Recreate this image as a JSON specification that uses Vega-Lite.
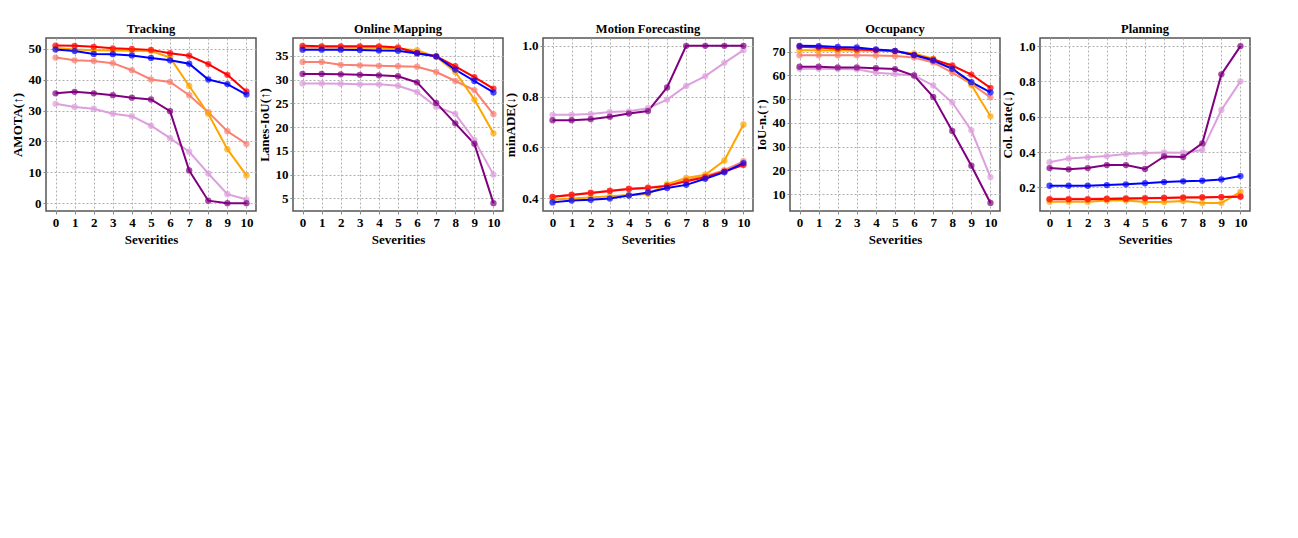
{
"$schema": "https://vega.github.io/schema/vega-lite/v6.json",
"background": "white",
"padding": {"left": 10, "top": 21, "right": 5, "bottom": 5},
"spacing": 0,
"config": {
"font": "Liberation Serif",
"view": {"stroke": "#555", "strokeWidth": 1.5},
"axis": {"labelFontWeight": "bold", "labelFontSize": 13, "labelColor": "black", "titleFontWeight": "bold", "titleFontSize": 13, "titleColor": "black", "gridDash": [2, 2], "gridColor": "#b0b0b0", "domain": false, "tickSize": 3},
"title": {"fontWeight": "bold", "fontSize": 12.5, "offset": 3}
},
"resolve": {"scale": {"y": "independent"}},
"datasets": {"d": [
{"task":"Tracking","model":"FusionAD-R","sev":0,"value":47.2},{"task":"Tracking","model":"FusionAD-R","sev":1,"value":46.3},{"task":"Tracking","model":"FusionAD-R","sev":2,"value":46.1},{"task":"Tracking","model":"FusionAD-R","sev":3,"value":45.4},{"task":"Tracking","model":"FusionAD-R","sev":4,"value":43.1},{"task":"Tracking","model":"FusionAD-R","sev":5,"value":40.1},{"task":"Tracking","model":"FusionAD-R","sev":6,"value":39.3},{"task":"Tracking","model":"FusionAD-R","sev":7,"value":35.0},{"task":"Tracking","model":"FusionAD-R","sev":8,"value":29.5},{"task":"Tracking","model":"FusionAD-R","sev":9,"value":23.3},{"task":"Tracking","model":"FusionAD-R","sev":10,"value":19.2},
{"task":"Tracking","model":"UniAD-R","sev":0,"value":32.2},{"task":"Tracking","model":"UniAD-R","sev":1,"value":31.2},{"task":"Tracking","model":"UniAD-R","sev":2,"value":30.6},{"task":"Tracking","model":"UniAD-R","sev":3,"value":29.0},{"task":"Tracking","model":"UniAD-R","sev":4,"value":28.2},{"task":"Tracking","model":"UniAD-R","sev":5,"value":25.1},{"task":"Tracking","model":"UniAD-R","sev":6,"value":21.1},{"task":"Tracking","model":"UniAD-R","sev":7,"value":16.7},{"task":"Tracking","model":"UniAD-R","sev":8,"value":9.6},{"task":"Tracking","model":"UniAD-R","sev":9,"value":2.9},{"task":"Tracking","model":"UniAD-R","sev":10,"value":1.2},
{"task":"Tracking","model":"FusionAD","sev":0,"value":50.3},{"task":"Tracking","model":"FusionAD","sev":1,"value":49.8},{"task":"Tracking","model":"FusionAD","sev":2,"value":49.6},{"task":"Tracking","model":"FusionAD","sev":3,"value":49.5},{"task":"Tracking","model":"FusionAD","sev":4,"value":49.4},{"task":"Tracking","model":"FusionAD","sev":5,"value":49.3},{"task":"Tracking","model":"FusionAD","sev":6,"value":47.2},{"task":"Tracking","model":"FusionAD","sev":7,"value":38.0},{"task":"Tracking","model":"FusionAD","sev":8,"value":29.0},{"task":"Tracking","model":"FusionAD","sev":9,"value":17.5},{"task":"Tracking","model":"FusionAD","sev":10,"value":9.0},
{"task":"Tracking","model":"UniAD","sev":0,"value":35.6},{"task":"Tracking","model":"UniAD","sev":1,"value":36.1},{"task":"Tracking","model":"UniAD","sev":2,"value":35.6},{"task":"Tracking","model":"UniAD","sev":3,"value":35.0},{"task":"Tracking","model":"UniAD","sev":4,"value":34.2},{"task":"Tracking","model":"UniAD","sev":5,"value":33.6},{"task":"Tracking","model":"UniAD","sev":6,"value":29.8},{"task":"Tracking","model":"UniAD","sev":7,"value":10.6},{"task":"Tracking","model":"UniAD","sev":8,"value":0.8},{"task":"Tracking","model":"UniAD","sev":9,"value":0.0},{"task":"Tracking","model":"UniAD","sev":10,"value":0.0},
{"task":"Tracking","model":"GraphBEV++ (Query)","sev":0,"value":51.1},{"task":"Tracking","model":"GraphBEV++ (Query)","sev":1,"value":51.0},{"task":"Tracking","model":"GraphBEV++ (Query)","sev":2,"value":50.7},{"task":"Tracking","model":"GraphBEV++ (Query)","sev":3,"value":50.2},{"task":"Tracking","model":"GraphBEV++ (Query)","sev":4,"value":50.0},{"task":"Tracking","model":"GraphBEV++ (Query)","sev":5,"value":49.7},{"task":"Tracking","model":"GraphBEV++ (Query)","sev":6,"value":48.6},{"task":"Tracking","model":"GraphBEV++ (Query)","sev":7,"value":47.8},{"task":"Tracking","model":"GraphBEV++ (Query)","sev":8,"value":45.1},{"task":"Tracking","model":"GraphBEV++ (Query)","sev":9,"value":41.6},{"task":"Tracking","model":"GraphBEV++ (Query)","sev":10,"value":36.2},
{"task":"Tracking","model":"GraphBEV++ (LSS)","sev":0,"value":49.8},{"task":"Tracking","model":"GraphBEV++ (LSS)","sev":1,"value":49.3},{"task":"Tracking","model":"GraphBEV++ (LSS)","sev":2,"value":48.4},{"task":"Tracking","model":"GraphBEV++ (LSS)","sev":3,"value":48.3},{"task":"Tracking","model":"GraphBEV++ (LSS)","sev":4,"value":47.9},{"task":"Tracking","model":"GraphBEV++ (LSS)","sev":5,"value":47.1},{"task":"Tracking","model":"GraphBEV++ (LSS)","sev":6,"value":46.3},{"task":"Tracking","model":"GraphBEV++ (LSS)","sev":7,"value":45.2},{"task":"Tracking","model":"GraphBEV++ (LSS)","sev":8,"value":40.1},{"task":"Tracking","model":"GraphBEV++ (LSS)","sev":9,"value":38.6},{"task":"Tracking","model":"GraphBEV++ (LSS)","sev":10,"value":35.2},
{"task":"Online Mapping","model":"FusionAD-R","sev":0,"value":33.7},{"task":"Online Mapping","model":"FusionAD-R","sev":1,"value":33.7},{"task":"Online Mapping","model":"FusionAD-R","sev":2,"value":33.1},{"task":"Online Mapping","model":"FusionAD-R","sev":3,"value":33.0},{"task":"Online Mapping","model":"FusionAD-R","sev":4,"value":32.9},{"task":"Online Mapping","model":"FusionAD-R","sev":5,"value":32.8},{"task":"Online Mapping","model":"FusionAD-R","sev":6,"value":32.7},{"task":"Online Mapping","model":"FusionAD-R","sev":7,"value":31.6},{"task":"Online Mapping","model":"FusionAD-R","sev":8,"value":29.7},{"task":"Online Mapping","model":"FusionAD-R","sev":9,"value":27.8},{"task":"Online Mapping","model":"FusionAD-R","sev":10,"value":22.7},
{"task":"Online Mapping","model":"UniAD-R","sev":0,"value":29.2},{"task":"Online Mapping","model":"UniAD-R","sev":1,"value":29.2},{"task":"Online Mapping","model":"UniAD-R","sev":2,"value":29.1},{"task":"Online Mapping","model":"UniAD-R","sev":3,"value":29.0},{"task":"Online Mapping","model":"UniAD-R","sev":4,"value":29.0},{"task":"Online Mapping","model":"UniAD-R","sev":5,"value":28.7},{"task":"Online Mapping","model":"UniAD-R","sev":6,"value":27.4},{"task":"Online Mapping","model":"UniAD-R","sev":7,"value":24.3},{"task":"Online Mapping","model":"UniAD-R","sev":8,"value":22.8},{"task":"Online Mapping","model":"UniAD-R","sev":9,"value":17.3},{"task":"Online Mapping","model":"UniAD-R","sev":10,"value":10.0},
{"task":"Online Mapping","model":"FusionAD","sev":0,"value":36.75},{"task":"Online Mapping","model":"FusionAD","sev":1,"value":36.75},{"task":"Online Mapping","model":"FusionAD","sev":2,"value":36.75},{"task":"Online Mapping","model":"FusionAD","sev":3,"value":36.7},{"task":"Online Mapping","model":"FusionAD","sev":4,"value":36.7},{"task":"Online Mapping","model":"FusionAD","sev":5,"value":36.5},{"task":"Online Mapping","model":"FusionAD","sev":6,"value":36.2},{"task":"Online Mapping","model":"FusionAD","sev":7,"value":34.8},{"task":"Online Mapping","model":"FusionAD","sev":8,"value":31.6},{"task":"Online Mapping","model":"FusionAD","sev":9,"value":25.8},{"task":"Online Mapping","model":"FusionAD","sev":10,"value":18.7},
{"task":"Online Mapping","model":"UniAD","sev":0,"value":31.2},{"task":"Online Mapping","model":"UniAD","sev":1,"value":31.2},{"task":"Online Mapping","model":"UniAD","sev":2,"value":31.1},{"task":"Online Mapping","model":"UniAD","sev":3,"value":31.0},{"task":"Online Mapping","model":"UniAD","sev":4,"value":30.9},{"task":"Online Mapping","model":"UniAD","sev":5,"value":30.7},{"task":"Online Mapping","model":"UniAD","sev":6,"value":29.4},{"task":"Online Mapping","model":"UniAD","sev":7,"value":25.1},{"task":"Online Mapping","model":"UniAD","sev":8,"value":20.8},{"task":"Online Mapping","model":"UniAD","sev":9,"value":16.5},{"task":"Online Mapping","model":"UniAD","sev":10,"value":4.0},
{"task":"Online Mapping","model":"GraphBEV++ (Query)","sev":0,"value":37.1},{"task":"Online Mapping","model":"GraphBEV++ (Query)","sev":1,"value":37.0},{"task":"Online Mapping","model":"GraphBEV++ (Query)","sev":2,"value":37.0},{"task":"Online Mapping","model":"GraphBEV++ (Query)","sev":3,"value":37.0},{"task":"Online Mapping","model":"GraphBEV++ (Query)","sev":4,"value":37.0},{"task":"Online Mapping","model":"GraphBEV++ (Query)","sev":5,"value":36.75},{"task":"Online Mapping","model":"GraphBEV++ (Query)","sev":6,"value":35.6},{"task":"Online Mapping","model":"GraphBEV++ (Query)","sev":7,"value":34.9},{"task":"Online Mapping","model":"GraphBEV++ (Query)","sev":8,"value":32.8},{"task":"Online Mapping","model":"GraphBEV++ (Query)","sev":9,"value":30.5},{"task":"Online Mapping","model":"GraphBEV++ (Query)","sev":10,"value":28.1},
{"task":"Online Mapping","model":"GraphBEV++ (LSS)","sev":0,"value":36.3},{"task":"Online Mapping","model":"GraphBEV++ (LSS)","sev":1,"value":36.3},{"task":"Online Mapping","model":"GraphBEV++ (LSS)","sev":2,"value":36.3},{"task":"Online Mapping","model":"GraphBEV++ (LSS)","sev":3,"value":36.2},{"task":"Online Mapping","model":"GraphBEV++ (LSS)","sev":4,"value":36.1},{"task":"Online Mapping","model":"GraphBEV++ (LSS)","sev":5,"value":36.05},{"task":"Online Mapping","model":"GraphBEV++ (LSS)","sev":6,"value":35.5},{"task":"Online Mapping","model":"GraphBEV++ (LSS)","sev":7,"value":34.9},{"task":"Online Mapping","model":"GraphBEV++ (LSS)","sev":8,"value":32.1},{"task":"Online Mapping","model":"GraphBEV++ (LSS)","sev":9,"value":29.7},{"task":"Online Mapping","model":"GraphBEV++ (LSS)","sev":10,"value":27.3},
{"task":"Motion Forecasting","model":"FusionAD-R","sev":0,"value":0.405},{"task":"Motion Forecasting","model":"FusionAD-R","sev":1,"value":0.413},{"task":"Motion Forecasting","model":"FusionAD-R","sev":2,"value":0.421},{"task":"Motion Forecasting","model":"FusionAD-R","sev":3,"value":0.429},{"task":"Motion Forecasting","model":"FusionAD-R","sev":4,"value":0.437},{"task":"Motion Forecasting","model":"FusionAD-R","sev":5,"value":0.442},{"task":"Motion Forecasting","model":"FusionAD-R","sev":6,"value":0.450},{"task":"Motion Forecasting","model":"FusionAD-R","sev":7,"value":0.470},{"task":"Motion Forecasting","model":"FusionAD-R","sev":8,"value":0.486},{"task":"Motion Forecasting","model":"FusionAD-R","sev":9,"value":0.510},{"task":"Motion Forecasting","model":"FusionAD-R","sev":10,"value":0.545},
{"task":"Motion Forecasting","model":"UniAD-R","sev":0,"value":0.728},{"task":"Motion Forecasting","model":"UniAD-R","sev":1,"value":0.728},{"task":"Motion Forecasting","model":"UniAD-R","sev":2,"value":0.731},{"task":"Motion Forecasting","model":"UniAD-R","sev":3,"value":0.739},{"task":"Motion Forecasting","model":"UniAD-R","sev":4,"value":0.742},{"task":"Motion Forecasting","model":"UniAD-R","sev":5,"value":0.754},{"task":"Motion Forecasting","model":"UniAD-R","sev":6,"value":0.788},{"task":"Motion Forecasting","model":"UniAD-R","sev":7,"value":0.842},{"task":"Motion Forecasting","model":"UniAD-R","sev":8,"value":0.881},{"task":"Motion Forecasting","model":"UniAD-R","sev":9,"value":0.933},{"task":"Motion Forecasting","model":"UniAD-R","sev":10,"value":0.983},
{"task":"Motion Forecasting","model":"FusionAD","sev":0,"value":0.393},{"task":"Motion Forecasting","model":"FusionAD","sev":1,"value":0.398},{"task":"Motion Forecasting","model":"FusionAD","sev":2,"value":0.402},{"task":"Motion Forecasting","model":"FusionAD","sev":3,"value":0.407},{"task":"Motion Forecasting","model":"FusionAD","sev":4,"value":0.412},{"task":"Motion Forecasting","model":"FusionAD","sev":5,"value":0.416},{"task":"Motion Forecasting","model":"FusionAD","sev":6,"value":0.455},{"task":"Motion Forecasting","model":"FusionAD","sev":7,"value":0.479},{"task":"Motion Forecasting","model":"FusionAD","sev":8,"value":0.492},{"task":"Motion Forecasting","model":"FusionAD","sev":9,"value":0.548},{"task":"Motion Forecasting","model":"FusionAD","sev":10,"value":0.690},
{"task":"Motion Forecasting","model":"UniAD","sev":0,"value":0.707},{"task":"Motion Forecasting","model":"UniAD","sev":1,"value":0.707},{"task":"Motion Forecasting","model":"UniAD","sev":2,"value":0.711},{"task":"Motion Forecasting","model":"UniAD","sev":3,"value":0.721},{"task":"Motion Forecasting","model":"UniAD","sev":4,"value":0.733},{"task":"Motion Forecasting","model":"UniAD","sev":5,"value":0.743},{"task":"Motion Forecasting","model":"UniAD","sev":6,"value":0.836},{"task":"Motion Forecasting","model":"UniAD","sev":7,"value":1.0},{"task":"Motion Forecasting","model":"UniAD","sev":8,"value":1.0},{"task":"Motion Forecasting","model":"UniAD","sev":9,"value":1.0},{"task":"Motion Forecasting","model":"UniAD","sev":10,"value":1.0},
{"task":"Motion Forecasting","model":"GraphBEV++ (Query)","sev":0,"value":0.405},{"task":"Motion Forecasting","model":"GraphBEV++ (Query)","sev":1,"value":0.412},{"task":"Motion Forecasting","model":"GraphBEV++ (Query)","sev":2,"value":0.420},{"task":"Motion Forecasting","model":"GraphBEV++ (Query)","sev":3,"value":0.428},{"task":"Motion Forecasting","model":"GraphBEV++ (Query)","sev":4,"value":0.436},{"task":"Motion Forecasting","model":"GraphBEV++ (Query)","sev":5,"value":0.440},{"task":"Motion Forecasting","model":"GraphBEV++ (Query)","sev":6,"value":0.448},{"task":"Motion Forecasting","model":"GraphBEV++ (Query)","sev":7,"value":0.466},{"task":"Motion Forecasting","model":"GraphBEV++ (Query)","sev":8,"value":0.482},{"task":"Motion Forecasting","model":"GraphBEV++ (Query)","sev":9,"value":0.505},{"task":"Motion Forecasting","model":"GraphBEV++ (Query)","sev":10,"value":0.530},
{"task":"Motion Forecasting","model":"GraphBEV++ (LSS)","sev":0,"value":0.383},{"task":"Motion Forecasting","model":"GraphBEV++ (LSS)","sev":1,"value":0.390},{"task":"Motion Forecasting","model":"GraphBEV++ (LSS)","sev":2,"value":0.393},{"task":"Motion Forecasting","model":"GraphBEV++ (LSS)","sev":3,"value":0.398},{"task":"Motion Forecasting","model":"GraphBEV++ (LSS)","sev":4,"value":0.410},{"task":"Motion Forecasting","model":"GraphBEV++ (LSS)","sev":5,"value":0.422},{"task":"Motion Forecasting","model":"GraphBEV++ (LSS)","sev":6,"value":0.440},{"task":"Motion Forecasting","model":"GraphBEV++ (LSS)","sev":7,"value":0.452},{"task":"Motion Forecasting","model":"GraphBEV++ (LSS)","sev":8,"value":0.476},{"task":"Motion Forecasting","model":"GraphBEV++ (LSS)","sev":9,"value":0.502},{"task":"Motion Forecasting","model":"GraphBEV++ (LSS)","sev":10,"value":0.538},
{"task":"Occupancy","model":"FusionAD-R","sev":0,"value":68.5},{"task":"Occupancy","model":"FusionAD-R","sev":1,"value":68.5},{"task":"Occupancy","model":"FusionAD-R","sev":2,"value":68.5},{"task":"Occupancy","model":"FusionAD-R","sev":3,"value":68.5},{"task":"Occupancy","model":"FusionAD-R","sev":4,"value":68.4},{"task":"Occupancy","model":"FusionAD-R","sev":5,"value":68.2},{"task":"Occupancy","model":"FusionAD-R","sev":6,"value":67.6},{"task":"Occupancy","model":"FusionAD-R","sev":7,"value":65.5},{"task":"Occupancy","model":"FusionAD-R","sev":8,"value":61.2},{"task":"Occupancy","model":"FusionAD-R","sev":9,"value":56.5},{"task":"Occupancy","model":"FusionAD-R","sev":10,"value":50.8},
{"task":"Occupancy","model":"UniAD-R","sev":0,"value":62.8},{"task":"Occupancy","model":"UniAD-R","sev":1,"value":62.8},{"task":"Occupancy","model":"UniAD-R","sev":2,"value":62.7},{"task":"Occupancy","model":"UniAD-R","sev":3,"value":62.6},{"task":"Occupancy","model":"UniAD-R","sev":4,"value":61.2},{"task":"Occupancy","model":"UniAD-R","sev":5,"value":60.6},{"task":"Occupancy","model":"UniAD-R","sev":6,"value":60.0},{"task":"Occupancy","model":"UniAD-R","sev":7,"value":55.8},{"task":"Occupancy","model":"UniAD-R","sev":8,"value":48.6},{"task":"Occupancy","model":"UniAD-R","sev":9,"value":36.9},{"task":"Occupancy","model":"UniAD-R","sev":10,"value":17.2},
{"task":"Occupancy","model":"FusionAD","sev":0,"value":70.6},{"task":"Occupancy","model":"FusionAD","sev":1,"value":70.6},{"task":"Occupancy","model":"FusionAD","sev":2,"value":70.5},{"task":"Occupancy","model":"FusionAD","sev":3,"value":70.5},{"task":"Occupancy","model":"FusionAD","sev":4,"value":70.4},{"task":"Occupancy","model":"FusionAD","sev":5,"value":70.2},{"task":"Occupancy","model":"FusionAD","sev":6,"value":69.3},{"task":"Occupancy","model":"FusionAD","sev":7,"value":67.1},{"task":"Occupancy","model":"FusionAD","sev":8,"value":63.3},{"task":"Occupancy","model":"FusionAD","sev":9,"value":56.0},{"task":"Occupancy","model":"FusionAD","sev":10,"value":42.8},
{"task":"Occupancy","model":"UniAD","sev":0,"value":63.7},{"task":"Occupancy","model":"UniAD","sev":1,"value":63.7},{"task":"Occupancy","model":"UniAD","sev":2,"value":63.4},{"task":"Occupancy","model":"UniAD","sev":3,"value":63.4},{"task":"Occupancy","model":"UniAD","sev":4,"value":63.1},{"task":"Occupancy","model":"UniAD","sev":5,"value":62.7},{"task":"Occupancy","model":"UniAD","sev":6,"value":60.0},{"task":"Occupancy","model":"UniAD","sev":7,"value":51.0},{"task":"Occupancy","model":"UniAD","sev":8,"value":36.6},{"task":"Occupancy","model":"UniAD","sev":9,"value":22.0},{"task":"Occupancy","model":"UniAD","sev":10,"value":6.3},
{"task":"Occupancy","model":"GraphBEV++ (Query)","sev":0,"value":72.1},{"task":"Occupancy","model":"GraphBEV++ (Query)","sev":1,"value":71.8},{"task":"Occupancy","model":"GraphBEV++ (Query)","sev":2,"value":71.3},{"task":"Occupancy","model":"GraphBEV++ (Query)","sev":3,"value":71.0},{"task":"Occupancy","model":"GraphBEV++ (Query)","sev":4,"value":70.7},{"task":"Occupancy","model":"GraphBEV++ (Query)","sev":5,"value":70.3},{"task":"Occupancy","model":"GraphBEV++ (Query)","sev":6,"value":68.6},{"task":"Occupancy","model":"GraphBEV++ (Query)","sev":7,"value":66.8},{"task":"Occupancy","model":"GraphBEV++ (Query)","sev":8,"value":64.2},{"task":"Occupancy","model":"GraphBEV++ (Query)","sev":9,"value":60.4},{"task":"Occupancy","model":"GraphBEV++ (Query)","sev":10,"value":54.8},
{"task":"Occupancy","model":"GraphBEV++ (LSS)","sev":0,"value":72.5},{"task":"Occupancy","model":"GraphBEV++ (LSS)","sev":1,"value":72.4},{"task":"Occupancy","model":"GraphBEV++ (LSS)","sev":2,"value":72.0},{"task":"Occupancy","model":"GraphBEV++ (LSS)","sev":3,"value":71.8},{"task":"Occupancy","model":"GraphBEV++ (LSS)","sev":4,"value":71.0},{"task":"Occupancy","model":"GraphBEV++ (LSS)","sev":5,"value":70.4},{"task":"Occupancy","model":"GraphBEV++ (LSS)","sev":6,"value":68.6},{"task":"Occupancy","model":"GraphBEV++ (LSS)","sev":7,"value":66.3},{"task":"Occupancy","model":"GraphBEV++ (LSS)","sev":8,"value":62.8},{"task":"Occupancy","model":"GraphBEV++ (LSS)","sev":9,"value":57.2},{"task":"Occupancy","model":"GraphBEV++ (LSS)","sev":10,"value":52.9},
{"task":"Planning","model":"FusionAD-R","sev":0,"value":0.135},{"task":"Planning","model":"FusionAD-R","sev":1,"value":0.135},{"task":"Planning","model":"FusionAD-R","sev":2,"value":0.135},{"task":"Planning","model":"FusionAD-R","sev":3,"value":0.137},{"task":"Planning","model":"FusionAD-R","sev":4,"value":0.139},{"task":"Planning","model":"FusionAD-R","sev":5,"value":0.140},{"task":"Planning","model":"FusionAD-R","sev":6,"value":0.141},{"task":"Planning","model":"FusionAD-R","sev":7,"value":0.143},{"task":"Planning","model":"FusionAD-R","sev":8,"value":0.145},{"task":"Planning","model":"FusionAD-R","sev":9,"value":0.146},{"task":"Planning","model":"FusionAD-R","sev":10,"value":0.150},
{"task":"Planning","model":"UniAD-R","sev":0,"value":0.342},{"task":"Planning","model":"UniAD-R","sev":1,"value":0.364},{"task":"Planning","model":"UniAD-R","sev":2,"value":0.370},{"task":"Planning","model":"UniAD-R","sev":3,"value":0.377},{"task":"Planning","model":"UniAD-R","sev":4,"value":0.389},{"task":"Planning","model":"UniAD-R","sev":5,"value":0.394},{"task":"Planning","model":"UniAD-R","sev":6,"value":0.398},{"task":"Planning","model":"UniAD-R","sev":7,"value":0.396},{"task":"Planning","model":"UniAD-R","sev":8,"value":0.411},{"task":"Planning","model":"UniAD-R","sev":9,"value":0.638},{"task":"Planning","model":"UniAD-R","sev":10,"value":0.800},
{"task":"Planning","model":"FusionAD","sev":0,"value":0.119},{"task":"Planning","model":"FusionAD","sev":1,"value":0.119},{"task":"Planning","model":"FusionAD","sev":2,"value":0.119},{"task":"Planning","model":"FusionAD","sev":3,"value":0.126},{"task":"Planning","model":"FusionAD","sev":4,"value":0.126},{"task":"Planning","model":"FusionAD","sev":5,"value":0.117},{"task":"Planning","model":"FusionAD","sev":6,"value":0.117},{"task":"Planning","model":"FusionAD","sev":7,"value":0.123},{"task":"Planning","model":"FusionAD","sev":8,"value":0.111},{"task":"Planning","model":"FusionAD","sev":9,"value":0.111},{"task":"Planning","model":"FusionAD","sev":10,"value":0.174},
{"task":"Planning","model":"UniAD","sev":0,"value":0.309},{"task":"Planning","model":"UniAD","sev":1,"value":0.302},{"task":"Planning","model":"UniAD","sev":2,"value":0.309},{"task":"Planning","model":"UniAD","sev":3,"value":0.326},{"task":"Planning","model":"UniAD","sev":4,"value":0.326},{"task":"Planning","model":"UniAD","sev":5,"value":0.304},{"task":"Planning","model":"UniAD","sev":6,"value":0.375},{"task":"Planning","model":"UniAD","sev":7,"value":0.372},{"task":"Planning","model":"UniAD","sev":8,"value":0.449},{"task":"Planning","model":"UniAD","sev":9,"value":0.840},{"task":"Planning","model":"UniAD","sev":10,"value":1.0},
{"task":"Planning","model":"GraphBEV++ (Query)","sev":0,"value":0.132},{"task":"Planning","model":"GraphBEV++ (Query)","sev":1,"value":0.132},{"task":"Planning","model":"GraphBEV++ (Query)","sev":2,"value":0.132},{"task":"Planning","model":"GraphBEV++ (Query)","sev":3,"value":0.134},{"task":"Planning","model":"GraphBEV++ (Query)","sev":4,"value":0.136},{"task":"Planning","model":"GraphBEV++ (Query)","sev":5,"value":0.138},{"task":"Planning","model":"GraphBEV++ (Query)","sev":6,"value":0.140},{"task":"Planning","model":"GraphBEV++ (Query)","sev":7,"value":0.142},{"task":"Planning","model":"GraphBEV++ (Query)","sev":8,"value":0.143},{"task":"Planning","model":"GraphBEV++ (Query)","sev":9,"value":0.145},{"task":"Planning","model":"GraphBEV++ (Query)","sev":10,"value":0.147},
{"task":"Planning","model":"GraphBEV++ (LSS)","sev":0,"value":0.209},{"task":"Planning","model":"GraphBEV++ (LSS)","sev":1,"value":0.209},{"task":"Planning","model":"GraphBEV++ (LSS)","sev":2,"value":0.209},{"task":"Planning","model":"GraphBEV++ (LSS)","sev":3,"value":0.213},{"task":"Planning","model":"GraphBEV++ (LSS)","sev":4,"value":0.217},{"task":"Planning","model":"GraphBEV++ (LSS)","sev":5,"value":0.223},{"task":"Planning","model":"GraphBEV++ (LSS)","sev":6,"value":0.230},{"task":"Planning","model":"GraphBEV++ (LSS)","sev":7,"value":0.234},{"task":"Planning","model":"GraphBEV++ (LSS)","sev":8,"value":0.238},{"task":"Planning","model":"GraphBEV++ (LSS)","sev":9,"value":0.245},{"task":"Planning","model":"GraphBEV++ (LSS)","sev":10,"value":0.264}
]},
"hconcat": [
{"width": 210, "height": 173, "title": "Tracking", "data": {"name": "d"}, "transform": [{"filter": "datum.task === 'Tracking'"}],
 "encoding": {
  "x": {"field": "sev", "type": "quantitative", "scale": {"domain": [-0.5, 10.5], "nice": false, "zero": false}, "axis": {"values": [0,1,2,3,4,5,6,7,8,9,10], "format": "d", "title": "Severities"}},
  "y": {"field": "value", "type": "quantitative", "scale": {"domain": [-2.55, 53.55], "nice": false, "zero": false}, "axis": {"values": [0,10,20,30,40,50], "format": "d", "title": "AMOTA(↑)"}},
  "color": {"field": "model", "type": "nominal", "scale": {"domain": ["FusionAD-R","UniAD-R","FusionAD","UniAD","GraphBEV++ (Query)","GraphBEV++ (LSS)"], "range": ["#FA8072","#DDA0DD","#FFA500","#800080","#FF0000","#0000FF"]}, "legend": null}
 },
 "layer": [
  {"mark": {"type": "line", "strokeWidth": 2}, "encoding": {}},
  {"mark": {"type": "point", "filled": true, "size": 40}, "encoding": {}}
 ]},
{"width": 210, "height": 173, "title": "Online Mapping", "data": {"name": "d"}, "transform": [{"filter": "datum.task === 'Online Mapping'"}],
 "encoding": {
  "x": {"field": "sev", "type": "quantitative", "scale": {"domain": [-0.5, 10.5], "nice": false, "zero": false}, "axis": {"values": [0,1,2,3,4,5,6,7,8,9,10], "format": "d", "title": "Severities"}},
  "y": {"field": "value", "type": "quantitative", "scale": {"domain": [2.35, 38.75], "nice": false, "zero": false}, "axis": {"values": [5,10,15,20,25,30,35], "format": "d", "title": "Lanes-IoU(↑)"}},
  "color": {"field": "model", "type": "nominal", "scale": {"domain": ["FusionAD-R","UniAD-R","FusionAD","UniAD","GraphBEV++ (Query)","GraphBEV++ (LSS)"], "range": ["#FA8072","#DDA0DD","#FFA500","#800080","#FF0000","#0000FF"]}, "legend": null}
 },
 "layer": [
  {"mark": {"type": "line", "strokeWidth": 2}, "encoding": {}},
  {"mark": {"type": "point", "filled": true, "size": 40}, "encoding": {}}
 ]},
{"width": 210, "height": 173, "title": "Motion Forecasting", "data": {"name": "d"}, "transform": [{"filter": "datum.task === 'Motion Forecasting'"}],
 "encoding": {
  "x": {"field": "sev", "type": "quantitative", "scale": {"domain": [-0.5, 10.5], "nice": false, "zero": false}, "axis": {"values": [0,1,2,3,4,5,6,7,8,9,10], "format": "d", "title": "Severities"}},
  "y": {"field": "value", "type": "quantitative", "scale": {"domain": [0.349, 1.031], "nice": false, "zero": false}, "axis": {"values": [0.4,0.6,0.8,1.0], "format": ".1f", "title": "minADE(↓)"}},
  "color": {"field": "model", "type": "nominal", "scale": {"domain": ["FusionAD-R","UniAD-R","FusionAD","UniAD","GraphBEV++ (Query)","GraphBEV++ (LSS)"], "range": ["#FA8072","#DDA0DD","#FFA500","#800080","#FF0000","#0000FF"]}, "legend": null}
 },
 "layer": [
  {"mark": {"type": "line", "strokeWidth": 2}, "encoding": {}},
  {"mark": {"type": "point", "filled": true, "size": 40}, "encoding": {}}
 ]},
{"width": 210, "height": 173, "title": "Occupancy", "data": {"name": "d"}, "transform": [{"filter": "datum.task === 'Occupancy'"}],
 "encoding": {
  "x": {"field": "sev", "type": "quantitative", "scale": {"domain": [-0.5, 10.5], "nice": false, "zero": false}, "axis": {"values": [0,1,2,3,4,5,6,7,8,9,10], "format": "d", "title": "Severities"}},
  "y": {"field": "value", "type": "quantitative", "scale": {"domain": [2.9, 75.8], "nice": false, "zero": false}, "axis": {"values": [10,20,30,40,50,60,70], "format": "d", "title": "IoU-n.(↑)"}},
  "color": {"field": "model", "type": "nominal", "scale": {"domain": ["FusionAD-R","UniAD-R","FusionAD","UniAD","GraphBEV++ (Query)","GraphBEV++ (LSS)"], "range": ["#FA8072","#DDA0DD","#FFA500","#800080","#FF0000","#0000FF"]}, "legend": null}
 },
 "layer": [
  {"mark": {"type": "line", "strokeWidth": 2}, "encoding": {}},
  {"mark": {"type": "point", "filled": true, "size": 40}, "encoding": {}}
 ]},
{"width": 210, "height": 173, "title": "Planning", "data": {"name": "d"}, "transform": [{"filter": "datum.task === 'Planning'"}],
 "encoding": {
  "x": {"field": "sev", "type": "quantitative", "scale": {"domain": [-0.5, 10.5], "nice": false, "zero": false}, "axis": {"values": [0,1,2,3,4,5,6,7,8,9,10], "format": "d", "title": "Severities"}},
  "y": {"field": "value", "type": "quantitative", "scale": {"domain": [0.066, 1.046], "nice": false, "zero": false}, "axis": {"values": [0.2,0.4,0.6,0.8,1.0], "format": ".1f", "title": "Col. Rate(↓)"}},
  "color": {"field": "model", "type": "nominal", "scale": {"domain": ["FusionAD-R","UniAD-R","FusionAD","UniAD","GraphBEV++ (Query)","GraphBEV++ (LSS)"], "range": ["#FA8072","#DDA0DD","#FFA500","#800080","#FF0000","#0000FF"]}, "legend": null}
 },
 "layer": [
  {"mark": {"type": "line", "strokeWidth": 2}, "encoding": {}},
  {"mark": {"type": "point", "filled": true, "size": 40}, "encoding": {}}
 ]}
]
}
